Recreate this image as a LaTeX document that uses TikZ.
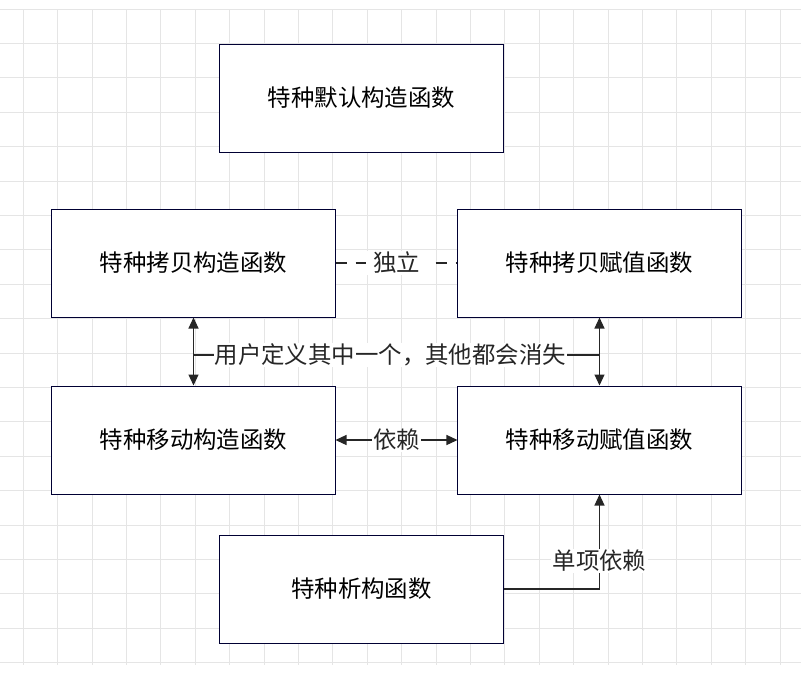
\documentclass[tikz,border=0pt]{standalone}
\usepackage{fontspec}
\setmainfont{Noto Sans CJK SC}
\usetikzlibrary{arrows.meta}

\tikzset{
  func/.style={draw=black!80!blue, line width=0.3mm, minimum width=8.49cm, minimum height=3.24cm, fill=white, font=\fontsize{20}{24}\selectfont},
  link/.style={line width=0.36mm, black!85, >={Triangle[length=3.3mm, width=3mm]}},
  tag/.style={fill=white, inner sep=1pt, font=\fontsize{20}{24}\selectfont}
}

\begin{document}
\begin{tikzpicture} [x=0.03cm, y=-0.03cm]
\useasboundingbox (0,0) rectangle (801,687);
\fill[white] (0,0) rectangle (801,687);
% background grid
\foreach \x in {0,...,23} \draw[black!10, line width=0.3mm] ({23.2+34.4*\x},9) -- ({23.2+34.4*\x},665);
\foreach \y in {0,...,19} \draw[black!10, line width=0.3mm] (0,{9+34.4*\y}) -- (801,{9+34.4*\y});

\node[func] (dflt) at (361.5,98) {特种默认构造函数};
\node[func] (cpyctor) at (193.5,263) {特种拷贝构造函数};
\node[func] (cpyasg) at (599.5,263) {特种拷贝赋值函数};
\node[func] (movctor) at (193.5,440) {特种移动构造函数};
\node[func] (movasg) at (599.5,440) {特种移动赋值函数};
\node[func] (dtor) at (361.5,589) {特种析构函数};

\draw[link, dash pattern=on 3.5mm off 2.5mm] (cpyctor) -- node[tag, inner xsep=2mm] {独立} (cpyasg);

\draw[link, <->] (cpyctor.south) -- (movctor.north);
\draw[link, <->] (cpyasg.south) -- (movasg.north);
\coordinate (lft) at (193.5,355);
\coordinate (rgt) at (599.5,355);
\draw[link] (lft) -- node[tag, pos=0.485] {用户定义其中一个，其他都会消失} (rgt);

\draw[link, <->] (movctor) -- node[tag] {依赖} (movasg);

\coordinate (bend) at (599.5,589);
\draw[link, ->] (dtor.east) -- (bend) -- node[tag, pos=0.3] {单项依赖} (movasg.south);
\end{tikzpicture}
\end{document}
